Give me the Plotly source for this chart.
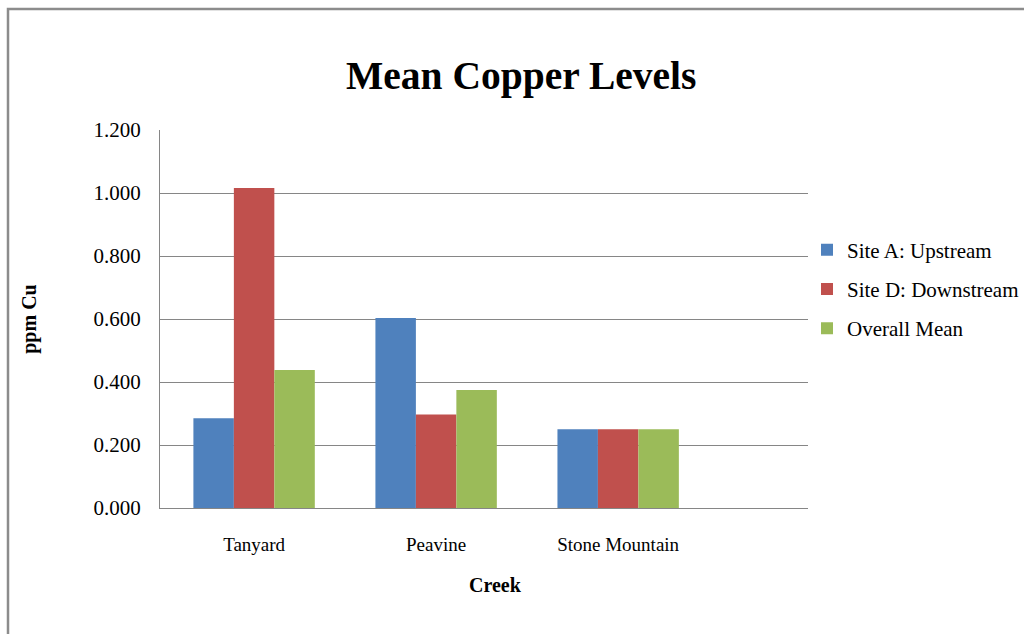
import plotly.graph_objects as go

categories = ["Tanyard", "Peavine", "Stone Mountain"]
site_a = [0.285, 0.603, 0.250]
site_d = [1.016, 0.297, 0.250]
overall = [0.438, 0.375, 0.250]
series_names = ["Site A: Upstream", "Site D: Downstream", "Overall Mean"]
colors = ["#4F81BD", "#C0504D", "#9BBB59"]
y_ticks = [0.0, 0.2, 0.4, 0.6, 0.8, 1.0, 1.2]

FONT = "Liberation Serif, Times New Roman, serif"
W, H = 1024, 634
ml, mr, mt, mb = 160, 216, 130, 126
pw, ph = W - ml - mr, H - mt - mb

fig = go.Figure()
for name, vals, col in zip(series_names, [site_a, site_d, overall], colors):
    fig.add_trace(go.Bar(x=categories, y=vals, name=name, marker_color=col,
                         marker_line_width=0, legendgroup=name))

def px_x(x):
    return (x - ml) / pw

def px_y(y):
    return (H - mb - y) / ph

fig.update_layout(
    width=W, height=H,
    margin=dict(l=ml, r=mr, t=mt, b=mb, autoexpand=False),
    paper_bgcolor="white", plot_bgcolor="white",
    barmode="group", bargap=0.333, bargroupgap=0,
    font=dict(family=FONT, color="black", size=18),
    title=dict(text="<b>Mean Copper Levels</b>", x=0.509, xanchor="center",
               y=1 - 75 / H, yanchor="middle",
               font=dict(family=FONT, size=39.5, color="black")),
    legend=dict(x=px_x(807), y=px_y(289), xanchor="left", yanchor="middle",
                font=dict(family=FONT, size=21, color="black"),
                tracegroupgap=9, itemwidth=30, bgcolor="rgba(0,0,0,0)"),
    showlegend=True,
    xaxis=dict(range=[-0.517, 3.043], showline=True, linecolor="#868686", linewidth=1,
               ticks="outside", ticklen=19, tickcolor="rgba(0,0,0,0)",
               tickfont=dict(family=FONT, size=19, color="black")),
    yaxis=dict(range=[0, 1.2], tickvals=y_ticks,
               ticktext=[f"{v:.3f}" for v in y_ticks],
               showgrid=True, gridcolor="#868686", gridwidth=1,
               showline=True, linecolor="#868686", linewidth=1,
               zeroline=False,
               ticks="outside", ticklen=14, tickcolor="rgba(0,0,0,0)",
               tickfont=dict(family=FONT, size=21, color="black"),
               title=dict(text="<b>ppm Cu</b>", standoff=51,
                          font=dict(family=FONT, size=20, color="black"))),
    annotations=[dict(text="<b>Creek</b>", xref="paper", yref="paper",
                      x=px_x(495), y=px_y(585), xanchor="center", yanchor="middle",
                      showarrow=False, font=dict(family=FONT, size=20, color="black"))],
    shapes=[dict(type="rect", xref="paper", yref="paper",
                 x0=px_x(8), x1=px_x(1100), y0=px_y(700), y1=px_y(9),
                 line=dict(color="#8C8C8C", width=2.5), fillcolor="rgba(0,0,0,0)",
                 layer="below")],
)

fig.write_html("out.html", config={"displayModeBar": False},
               post_script="document.body.style.margin='0';document.body.style.overflow='hidden';")
